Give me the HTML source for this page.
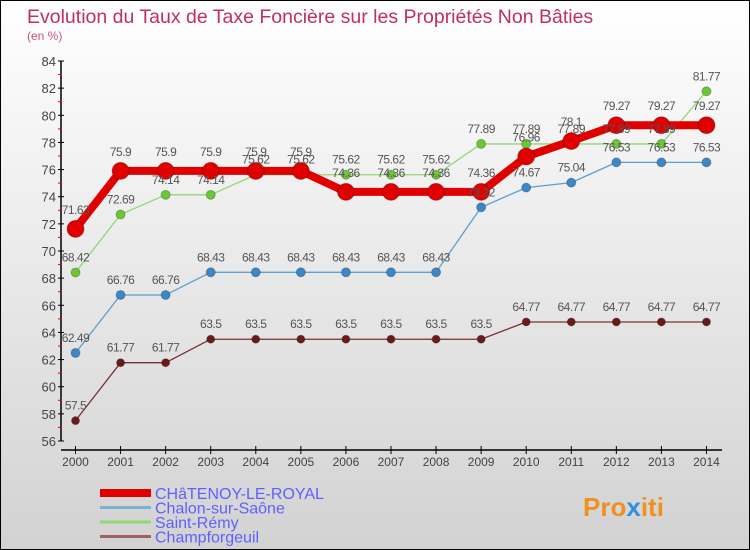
<!DOCTYPE html>
<html><head><meta charset="utf-8"><style>
body{margin:0;width:750px;height:550px;overflow:hidden;font-family:"Liberation Sans",sans-serif}
#c{position:absolute;left:0;top:0;width:748px;height:548px;border:1px solid #000;background:linear-gradient(#ffffff,#d2d2d2)}
</style></head><body>
<div id="c">
<svg id="s" width="750" height="550" style="position:absolute;left:-1px;top:-1px">
<text x="27" y="23" font-size="19.5" fill="#c0305f">Evolution du Taux de Taxe Foncière sur les Propriétés Non Bâties</text>
<text x="27" y="40" font-size="12" fill="#d05080">(en %)</text>
</svg></div>
<script>
const years=[2000,2001,2002,2003,2004,2005,2006,2007,2008,2009,2010,2011,2012,2013,2014];
const chatenoy=[71.63,75.9,75.9,75.9,75.9,75.9,74.36,74.36,74.36,74.36,76.96,78.1,79.27,79.27,79.27];
const chalon=[62.49,66.76,66.76,68.43,68.43,68.43,68.43,68.43,68.43,73.22,74.67,75.04,76.53,76.53,76.53];
const remy=[68.42,72.69,74.14,74.14,75.62,75.62,75.62,75.62,75.62,77.89,77.89,77.89,77.89,77.89,81.77];
const champ=[57.5,61.77,61.77,63.5,63.5,63.5,63.5,63.5,63.5,63.5,64.77,64.77,64.77,64.77,64.77];
const yTicks=[56,58,60,62,64,66,68,70,72,74,76,78,80,82,84];
const names=["CHâTENOY-LE-ROYAL","Chalon-sur-Saône","Saint-Rémy","Champforgeuil"];
const NS="http://www.w3.org/2000/svg",s=document.getElementById('s');
const X=i=>75.5+i*45.07, Y=v=>441-(v-56)*(380/28);
function el(t,a,p){const e=document.createElementNS(NS,t);for(const k in a)e.setAttribute(k,a[k]);(p||s).appendChild(e);return e;}
let ax=el('line',{x1:61,y1:Y(84),x2:61,y2:441,stroke:'#000','stroke-width':1.5});


let xa=el('line',{x1:61,y1:450,x2:722,y2:450,stroke:'#000','stroke-width':1.5});


yTicks.forEach(v=>{
 el('line',{x1:58,y1:Y(v),x2:64,y2:Y(v),stroke:'#000'});
 if(v<84) el('line',{x1:58,y1:Y(v+1),x2:62,y2:Y(v+1),stroke:'#e00'});
 const t=el('text',{x:56,y:Y(v)+5,'font-size':13,fill:'#444','text-anchor':'end'});t.textContent=v;
 
 
});
years.forEach((y,i)=>{
 el('line',{x1:X(i),y1:446,x2:X(i),y2:454,stroke:'#000'});
 const t=el('text',{x:X(i),y:466,'font-size':12,fill:'#444','text-anchor':'middle'});t.textContent=y;
 
 
});
const series=[[champ,'#6b1a1a','#7a3030',1.3,4,'champforgeuil'],[chalon,'#3a88c8','#5aa0d0',1.3,4.5,'chalon'],[remy,'#6cc832','#90d870',1.3,4.5,'saint-remy'],[chatenoy,'#e00000','#e00000',8,8.5,'chatenoy']];
const labels=[];
series.forEach(([d,c,lc,w,r,n])=>{
 const g=el('g',{});
 
 
 el('polyline',{points:d.map((v,i)=>X(i)+','+Y(v)).join(' '),fill:'none',stroke:lc,'stroke-width':w,'stroke-linejoin':'round'},g);
 d.forEach((v,i)=>{
  const p=el('circle',{cx:X(i),cy:Y(v),r:r,fill:c,stroke:'rgba(0,0,0,0.25)'},g);
  
  
  labels.push([X(i),Y(v)-11-(r>6?4:0),v]);
 });
});
labels.forEach(([x,y,v])=>{const t=el('text',{x:x,y:y,'font-size':12,fill:'#555','text-anchor':'middle','letter-spacing':'-0.5'});t.textContent=v;
 
 });
const lc=['#e00000','#7ab0d0','#90d870','#a06060'],lw=[8,3,3,3];
names.forEach((n,i)=>{
 const g=el('g',{});
 
 
 const y=493+i*14.5;
 el('line',{x1:100,y1:y,x2:151,y2:y,stroke:lc[i],'stroke-width':lw[i]},g);
 const t=el('text',{x:155,y:y+6,'font-size':16,fill:'#6060ff'},g);t.textContent=n;
});
const pr=el('text',{x:583,y:516,'font-size':26,'font-weight':'bold',fill:'#f09020'});
pr.innerHTML='Pro<tspan fill="#3090e0">x</tspan>iti';


</script></body></html>
